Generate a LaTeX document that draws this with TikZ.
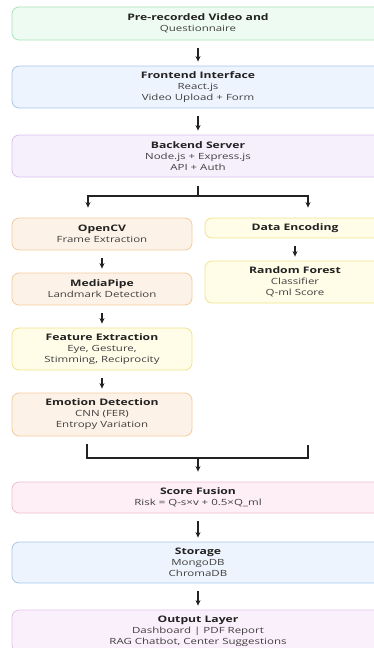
\documentclass[tikz,border=0pt]{standalone}
\usepackage{fontspec}
\setmainfont[FakeStretch=1.35]{Open Sans}
\usetikzlibrary{arrows.meta}

\definecolor{darktext}{HTML}{222222}
\definecolor{subtext}{HTML}{3F3F3F}
\definecolor{linecol}{HTML}{222222}
\definecolor{greenfill}{HTML}{EEFBF2}
\definecolor{greenline}{HTML}{A6E3B9}
\definecolor{bluefill}{HTML}{EEF4FD}
\definecolor{blueline}{HTML}{A7C8EB}
\definecolor{purplefill}{HTML}{F6EFFC}
\definecolor{purpleline}{HTML}{D8C2EE}
\definecolor{lilacfill}{HTML}{FAF0FB}
\definecolor{lilacline}{HTML}{E4C4EA}
\definecolor{orangefill}{HTML}{FDF2E7}
\definecolor{orangeline}{HTML}{F2CB9E}
\definecolor{yellowfill}{HTML}{FFFCE8}
\definecolor{yellowline}{HTML}{F2E38A}
\definecolor{pinkfill}{HTML}{FDEFF5}
\definecolor{pinkline}{HTML}{F1BDD2}

\newcommand{\hd}[1]{{\fontsize{9}{11}\selectfont\bfseries\color{darktext}#1}}

\tikzset{
	box/.style = { rectangle, rounded corners = 7pt, line width = 0.8pt, inner sep = 0pt,
		align = center, text = subtext, font = \fontsize{8.5}{11}\selectfont },
	wide/.style = { box, minimum width = 372pt },
	narrow/.style = { box, minimum width = 180pt },
	greenbox/.style = { fill = greenfill, draw = greenline },
	bluebox/.style = { fill = bluefill, draw = blueline },
	purplebox/.style = { fill = purplefill, draw = purpleline },
	lilacbox/.style = { fill = lilacfill, draw = lilacline },
	orangebox/.style = { fill = orangefill, draw = orangeline },
	yellowbox/.style = { fill = yellowfill, draw = yellowline },
	pinkbox/.style = { fill = pinkfill, draw = pinkline },
	link/.style = { draw = linecol, line width = 1.2pt },
	arrow/.style = { link, -{Stealth[length=5.5pt,width=5pt]}, shorten <= 8pt, shorten >= 4pt }
}

\begin{document}
\begin{tikzpicture}[x=1pt,y=-1pt]
	\useasboundingbox ( 0, 0 ) rectangle ( 374, 648 );

	% входные данные
	\node [wide, greenbox, minimum height = 33pt] (video) at ( 198, 23.5 ) {\hd{Pre-recorded Video and}\\Questionnaire};

	% клиент
	\node [wide, bluebox, minimum height = 42pt] (frontend) at ( 198, 87 ) {\hd{Frontend Interface}\\React.js\\Video Upload + Form};

	% сервер
	\node [wide, purplebox, minimum height = 42pt] (backend) at ( 198, 156 ) {\hd{Backend Server}\\Node.js + Express.js\\API + Auth};

	% левая ветка: видео
	\node [narrow, orangebox, minimum height = 32pt] (opencv) at ( 102, 234 ) {\hd{OpenCV}\\Frame Extraction};
	\node [narrow, orangebox, minimum height = 32pt] (mediapipe) at ( 102, 289 ) {\hd{MediaPipe}\\Landmark Detection};
	\node [narrow, yellowbox, minimum height = 42pt] (feature) at ( 102, 349 ) {\hd{Feature Extraction}\\Eye, Gesture,\\Stimming, Reciprocity};
	\node [narrow, orangebox, minimum height = 43pt] (emotion) at ( 102, 414.5 ) {\hd{Emotion Detection}\\CNN (FER)\\Entropy Variation};

	% правая ветка: анкета
	\node [narrow, yellowbox, minimum height = 20pt] (encoding) at ( 295, 228 ) {\hd{Data Encoding}};
	\node [narrow, yellowbox, minimum height = 42pt] (forest) at ( 295, 282 ) {\hd{Random Forest}\\Classifier\\Q-ml Score};

	% итог
	\node [wide, pinkbox, minimum height = 31pt] (fusion) at ( 198, 497.5 ) {\hd{Score Fusion}\\Risk = Q-s×v + 0.5×Q\_ml};
	\node [wide, bluebox, minimum height = 41pt] (storage) at ( 198, 562.5 ) {\hd{Storage}\\MongoDB\\ChromaDB};
	\node [wide, lilacbox, minimum height = 42pt] (output) at ( 198, 631 ) {\hd{Output Layer}\\Dashboard | PDF Report\\RAG Chatbot, Center Suggestions};

	% стрелки
	\draw [arrow] (video) -- (frontend);
	\draw [arrow] (frontend) -- (backend);

	% разветвление
	\coordinate (fork) at ( 198, 196 );
	\draw [link, shorten <= 9pt] (backend) -- (fork);
	\draw [arrow, shorten <= 0pt, shorten >= 10pt] (fork) -| ([xshift=-14pt]opencv.north);
	\draw [arrow, shorten <= 0pt, shorten >= 10pt] (fork) -| ([xshift=13pt]encoding.north);

	\draw [arrow] (opencv) -- (mediapipe);
	\draw [arrow] (mediapipe) -- (feature);
	\draw [arrow] (feature) -- (emotion);
	\draw [arrow] (encoding) -- (forest);

	% слияние
	\coordinate (merge) at ( 198, 458 );
	\coordinate (stubR) at ( 308, 445 );
	\draw [link, shorten <= 8pt] ([xshift=-15pt]emotion.south) |- (merge);
	\draw [link] (stubR) |- (merge);
	\draw [arrow, shorten <= 0pt, shorten >= 10pt] (merge) -- (fusion);

	\draw [arrow] (fusion) -- (storage);
	\draw [arrow] (storage) -- (output);
\end{tikzpicture}
\end{document}
